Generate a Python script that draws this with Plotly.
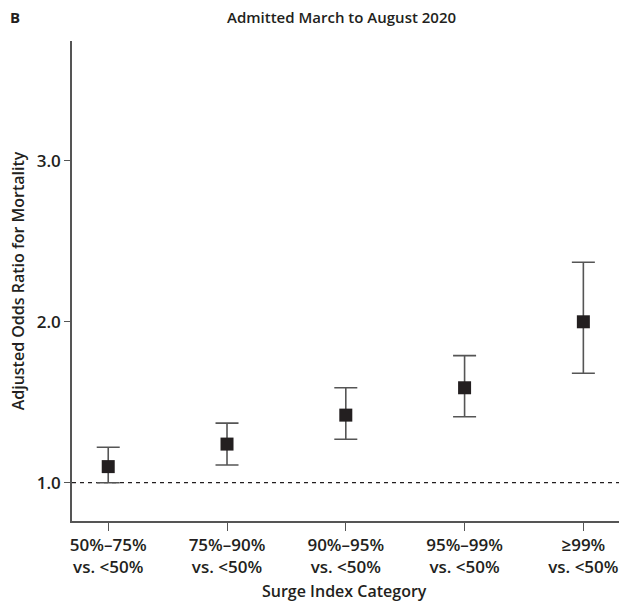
import plotly.graph_objects as go

categories = ["50%–75%<br>vs. <50%", "75%–90%<br>vs. <50%", "90%–95%<br>vs. <50%",
              "95%–99%<br>vs. <50%", "≥99%<br>vs. <50%"]
odds_ratio = [1.10, 1.24, 1.42, 1.59, 2.00]
ci_lower = [1.00, 1.11, 1.27, 1.41, 1.68]
ci_upper = [1.22, 1.37, 1.59, 1.79, 2.37]
y_ticks = [1.0, 2.0, 3.0]
y_tick_labels = ["1.0", "2.0", "3.0"]

x_pos = list(range(len(categories)))
err_plus = [u - v for u, v in zip(ci_upper, odds_ratio)]
err_minus = [v - l for v, l in zip(odds_ratio, ci_lower)]

FONT = "Open Sans"
TXT = "#231f20"
fig = go.Figure()

fig.add_hline(y=1.0, line=dict(color=TXT, width=1.2, dash="4px,4px"), layer="below")

fig.add_trace(go.Scatter(
    x=x_pos, y=odds_ratio, mode="markers",
    marker=dict(symbol="square", size=13, color=TXT),
    error_y=dict(type="data", symmetric=False, array=err_plus, arrayminus=err_minus,
                 color="#555555", thickness=1.6, width=11.5),
    showlegend=False, hoverinfo="skip",
))

fig.update_layout(
    width=619, height=602,
    margin=dict(l=72, r=0, t=41, b=81),
    paper_bgcolor="white", plot_bgcolor="white",
    font=dict(family=FONT, size=16, color=TXT, weight=600),
    xaxis=dict(range=[-0.305, 4.3], tickvals=x_pos, ticktext=categories,
               automargin=False,
               showline=True, linecolor="#555555", linewidth=1.6,
               ticks="outside", ticklen=8, tickwidth=1.4, tickcolor="#555555",
               showgrid=False, zeroline=False,
               tickfont=dict(family=FONT, size=17, color=TXT, weight=600)),
    yaxis=dict(range=[0.762, 3.745], tickvals=y_ticks, ticktext=y_tick_labels,
               automargin=False,
               showline=True, linecolor="#555555", linewidth=1.6,
               ticks="outside", ticklen=6, tickwidth=1.4, tickcolor="#555555",
               showgrid=False, zeroline=False,
               tickfont=dict(family=FONT, size=17, color=TXT, weight=600),
               title=dict(text="Adjusted Odds Ratio for Mortality", standoff=8,
                          font=dict(family=FONT, size=16, color=TXT, weight=600))),
    annotations=[
        dict(text="Admitted March to August 2020", x=0.492, y=1.05, xref="paper", yref="paper",
             showarrow=False, xanchor="center", yanchor="middle",
             font=dict(family=FONT, size=15, color=TXT, weight=600)),
        dict(text="B", x=-0.105, y=1.05, xref="paper", yref="paper",
             showarrow=False, xanchor="center", yanchor="middle",
             font=dict(family=FONT, size=15, color=TXT, weight=700)),
        dict(text="Surge Index Category", x=0.498, y=-0.145, xref="paper", yref="paper",
             showarrow=False, xanchor="center", yanchor="middle",
             font=dict(family=FONT, size=16, color=TXT, weight=600)),
    ],
)

fig.write_html("out.html",
               config={"displayModeBar": False},
               post_script="document.body.style.margin='0';document.body.style.overflow='hidden';")
